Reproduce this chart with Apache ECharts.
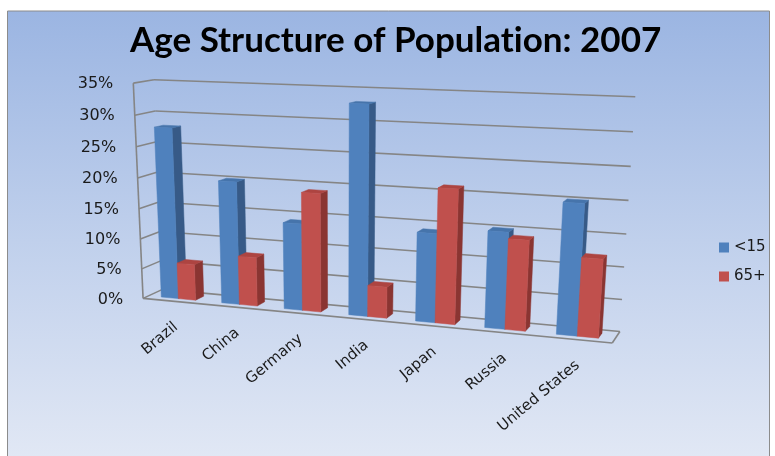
<!DOCTYPE html>
<html>
<head>
<meta charset="utf-8">
<script src="https://cdn.jsdelivr.net/npm/echarts@6/dist/echarts.min.js"></script>
<style>
  html, body { margin: 0; padding: 0; background: #fff; }
  #chart { width: 775px; height: 456px; }
</style>
</head>
<body>
<div id="chart"></div>
<script>
// ---- data -------------------------------------------------------------
const categories = ['Brazil', 'China', 'Germany', 'India', 'Japan', 'Russia', 'United States'];
const under15 = [28, 20, 14, 33, 14, 15, 20];   // share of population aged <15 (%)
const over65  = [6, 8, 19, 5, 21, 14, 12];      // share of population aged 65+ (%)
const valueTicks = [0, 5, 10, 15, 20, 25, 30, 35];
const seriesNames = ['<15', '65+'];

// ---- 3D frame: screen positions of the plot box edges -------------------
// Box space: X 0..1 (left..right), Y 0..1 (axis min..max), Z 0..1 (front..back).
// Each edge lists screen points for Y = 0, 1/7, ... 1.
const frameBackLeft  = [[160,290],[159.5,261],[159,232.3],[158.5,202.3],[158,172.3],[157.5,141.7],[157,110.7],[156.5,79.3]];
const frameBackRight = [[620,330],[622.1,298.7],[624.3,266.7],[626.4,234],[628.6,200.7],[630.7,166.7],[632.9,131.7],[635,96.7]];
const frameFrontLeft = [[145,298.3],[143.3,268.3],[141.7,238.3],[140,207.3],[137.7,178.3],[136,146.7],[131.7,115],[130.7,84]];
const frameFrontRightBottom = [612, 345];

const BAR_Z0 = 0.28, BAR_Z1 = 0.72;   // depth span of the bars
const GAP = 1.5;                      // gap between clusters, in bar widths

// Fit a 3D -> 2D projective camera to the frame points (least squares).
function fitCamera() {
  const pts = [];
  const n = frameBackLeft.length - 1;
  for (let k = 0; k <= n; k++) {
    pts.push([0, k / n, 1, frameBackLeft[k][0], frameBackLeft[k][1]]);
    pts.push([1, k / n, 1, frameBackRight[k][0], frameBackRight[k][1]]);
    pts.push([0, k / n, 0, frameFrontLeft[k][0], frameFrontLeft[k][1]]);
  }
  pts.push([1, 0, 0, frameFrontRightBottom[0], frameFrontRightBottom[1]]);
  const CX = 380, CY = 200, S = 300;
  const N = Array.from({ length: 11 }, () => new Array(11).fill(0));
  const r = new Array(11).fill(0);
  const addRow = (row, b) => {
    for (let a = 0; a < 11; a++) {
      r[a] += row[a] * b;
      for (let c = 0; c < 11; c++) N[a][c] += row[a] * row[c];
    }
  };
  pts.forEach(([X, Y, Z, u, v]) => {
    const uu = (u - CX) / S, vv = (v - CY) / S;
    addRow([X, Y, Z, 1, 0, 0, 0, 0, -uu * X, -uu * Y, -uu * Z], uu);
    addRow([0, 0, 0, 0, X, Y, Z, 1, -vv * X, -vv * Y, -vv * Z], vv);
  });
  // Gaussian elimination with partial pivoting
  for (let c = 0; c < 11; c++) {
    let piv = c;
    for (let a = c + 1; a < 11; a++) if (Math.abs(N[a][c]) > Math.abs(N[piv][c])) piv = a;
    [N[c], N[piv]] = [N[piv], N[c]];
    [r[c], r[piv]] = [r[piv], r[c]];
    for (let a = c + 1; a < 11; a++) {
      const f = N[a][c] / N[c][c];
      for (let k = c; k < 11; k++) N[a][k] -= f * N[c][k];
      r[a] -= f * r[c];
    }
  }
  const p = new Array(11).fill(0);
  for (let c = 10; c >= 0; c--) {
    let s = r[c];
    for (let k = c + 1; k < 11; k++) s -= N[c][k] * p[k];
    p[c] = s / N[c][c];
  }
  return (X, Y, Z) => {
    const w = p[8] * X + p[9] * Y + p[10] * Z + 1;
    return [
      (p[0] * X + p[1] * Y + p[2] * Z + p[3]) / w * S + CX,
      (p[4] * X + p[5] * Y + p[6] * Z + p[7]) / w * S + CY
    ];
  };
}
const project = fitCamera();

// Normalised box coordinates from the cartesian grid's own scales.
function boxX(params, px) { const cs = params.coordSys; return (px - cs.x) / cs.width; }
function boxY(params, py) { const cs = params.coordSys; return (cs.y + cs.height - py) / cs.height; }

const GRID_COLOR = '#858585';
const TEXT_FONT = '"DejaVu Sans", sans-serif';

function line(a, b) {
  return { type: 'line', shape: { x1: a[0], y1: a[1], x2: b[0], y2: b[1] },
           style: { stroke: GRID_COLOR, lineWidth: 1.6, fill: null } };
}

// Walls, floor, gridlines and value labels
function renderFrame(params, api) {
  const tick = api.value(0);
  const Y = boxY(params, api.coord([0, tick])[1]);
  const children = [
    line(project(0, Y, 0), project(0, Y, 1)),
    line(project(0, Y, 1), project(1, Y, 1)),
    { type: 'text', x: project(0, Y, 0)[0] - 20, y: project(0, Y, 0)[1] + 1,
      style: { text: tick + '%', fill: '#1a1a1a', font: '16px ' + TEXT_FONT,
               align: 'right', verticalAlign: 'middle' } }
  ];
  if (params.dataIndex === 0) {
    children.push(line(project(0, 0, 0), project(0, 1, 0)));
    children.push(line(project(0, 0, 0), project(1, 0, 0)));
    children.push(line(project(1, 0, 0), project(1, 0, 1)));
  }
  return { type: 'group', children };
}

// Category labels along the floor's front edge
function renderCategory(params, api) {
  const i = api.value(0);
  const X = boxX(params, api.coord([i, 0])[0]);
  const p = project(X, 0, 0);
  return { type: 'text', x: p[0] + 3, y: p[1] + 24, rotation: 40 * Math.PI / 180,
           style: { text: categories[i], fill: '#1a1a1a', font: '15px ' + TEXT_FONT,
                    align: 'right', verticalAlign: 'middle' } };
}

// 3D column: front, top and right faces
function barRenderer(slot, colors) {
  return function (params, api) {
    const i = api.value(0), v = api.value(1);
    const base = api.coord([i, 0]);
    const Xc = boxX(params, base[0]);
    const Y = boxY(params, api.coord([i, v])[1]);
    const c = api.size([1, 0])[0] / params.coordSys.width;
    const w = c / (2 + GAP);
    const xa = Xc - c / 2 + (GAP / 2 + slot) * w, xb = xa + w;
    const za = BAR_Z0, zb = BAR_Z1;
    const poly = (pts, fill) => ({ type: 'polygon', shape: { points: pts }, style: { fill, stroke: fill, lineWidth: 0.5 } });
    return {
      type: 'group',
      children: [
        poly([project(xb, 0, za), project(xb, 0, zb), project(xb, Y, zb), project(xb, Y, za)], colors.side),
        poly([project(xa, Y, za), project(xb, Y, za), project(xb, Y, zb), project(xa, Y, zb)], colors.top),
        poly([project(xa, 0, za), project(xb, 0, za), project(xb, Y, za), project(xa, Y, za)], colors.front)
      ]
    };
  };
}

const BLUE = { front: '#4f81bd', side: '#375a87', top: '#4674ab' };
const RED  = { front: '#c0504d', side: '#8a3532', top: '#ad4441' };

const TITLE_STYLE = { fontFamily: 'Lato', fontWeight: 'bold', fontSize: 35, color: '#000' };

const chart = echarts.init(document.getElementById('chart'), null, { renderer: 'canvas' });
chart.setOption({
  animation: false,
  backgroundColor: '#ffffff',
  graphic: [{
    type: 'rect', z: -10, silent: true,
    shape: { x: 7.5, y: 11, width: 762, height: 460 },
    style: {
      fill: { type: 'linear', x: 0, y: 0, x2: 0, y2: 1,
              colorStops: [{ offset: 0, color: '#9bb5e2' }, { offset: 0.5, color: '#c0d0ec' }, { offset: 1, color: '#e3e9f5' }] },
      stroke: '#8c8c8c', lineWidth: 1
    }
  }],
  title: {
    // two rich-text runs so "t" and "i" are drawn as separate glyphs
    text: '{t|Age Structure of Populat}{t|ion: 2007}',
    left: 125, top: 18,
    textStyle: Object.assign({ rich: { t: TITLE_STYLE } }, TITLE_STYLE)
  },
  legend: {
    data: seriesNames,
    orient: 'vertical', left: 714, top: 235,
    icon: 'rect', itemWidth: 10, itemHeight: 10, itemGap: 14,
    textStyle: { fontFamily: 'DejaVu Sans', fontSize: 15, color: '#1a1a1a', lineHeight: 15 }
  },
  grid: { left: 130, right: 155, top: 84, bottom: 158 },
  xAxis: { type: 'category', data: categories, show: false },
  yAxis: { type: 'value', min: 0, max: 35, interval: 5, show: false },
  series: [
    { type: 'custom', name: 'frame', data: valueTicks.map(t => [t]), renderItem: renderFrame, silent: true, z: 1 },
    { type: 'custom', name: 'categories', data: categories.map((c, i) => [i]), renderItem: renderCategory, silent: true, z: 1 },
    { type: 'custom', name: seriesNames[0], data: under15.map((v, i) => [i, v]), renderItem: barRenderer(0, BLUE),
      itemStyle: { color: BLUE.front }, z: 3 },
    { type: 'custom', name: seriesNames[1], data: over65.map((v, i) => [i, v]), renderItem: barRenderer(1, RED),
      itemStyle: { color: RED.front }, z: 3 }
  ]
});
</script>
</body>
</html>
